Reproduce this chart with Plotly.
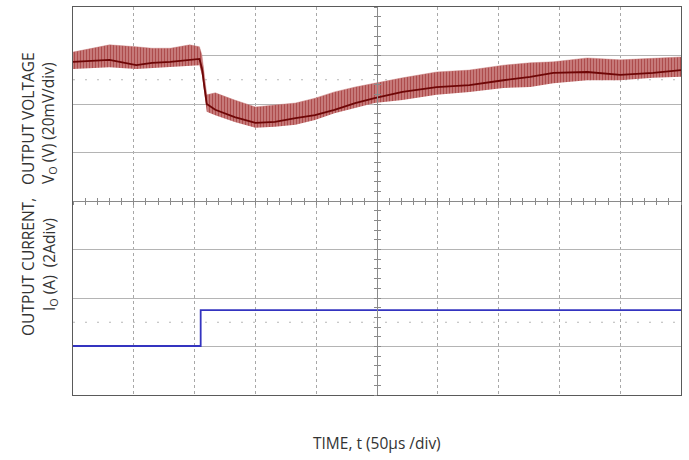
import plotly.graph_objects as go

# ---- data (time in µs, values in screen divisions; 20 mV/div and 2 A/div) ----
t_us = [0, 15, 30, 52, 65, 80, 96, 104, 106, 110, 117, 133, 150, 166, 183, 199,
        215, 232, 248, 271, 299, 326, 354, 376, 395, 423, 450, 477, 500]
vo_upper = [7.07, 7.15, 7.22, 7.18, 7.15, 7.15, 7.22, 7.18, 7.01, 6.19, 6.23, 6.08,
            5.94, 5.98, 6.02, 6.12, 6.25, 6.35, 6.43, 6.54, 6.66, 6.70, 6.80, 6.85,
            6.87, 6.95, 6.91, 6.95, 6.97]
vo_lower = [6.72, 6.74, 6.76, 6.72, 6.74, 6.76, 6.80, 6.80, 6.60, 5.84, 5.77, 5.63,
            5.51, 5.53, 5.57, 5.67, 5.81, 5.92, 6.02, 6.08, 6.19, 6.25, 6.33, 6.35,
            6.43, 6.49, 6.49, 6.54, 6.56]
vo_mid = [6.87, 6.89, 6.91, 6.80, 6.85, 6.87, 6.91, 6.93, 6.74, 6.00, 5.88, 5.73,
          5.61, 5.63, 5.71, 5.77, 5.88, 6.02, 6.12, 6.25, 6.35, 6.39, 6.49, 6.56,
          6.64, 6.66, 6.60, 6.64, 6.70]

io_t_us = [0, 105, 500]
io_div = [1.01, 1.75, 1.75]

ref_levels = [6.5, 1.5]

x_range = [0, 500]
y_range = [0, 8]

FONT = "Open Sans"
FSIZE = 15.5

fig = go.Figure()

# voltage ripple band
fig.add_trace(go.Scatter(x=t_us, y=vo_lower, mode="lines",
                         line=dict(width=0, color="rgba(0,0,0,0)"),
                         showlegend=False, hoverinfo="skip"))
fig.add_trace(go.Scatter(x=t_us, y=vo_upper, mode="lines", fill="tonexty",
                         line=dict(width=0.6, color="rgba(195,115,115,0.7)"),
                         fillpattern=dict(shape="|", fgcolor="rgb(140,15,15)",
                                          bgcolor="rgb(206,136,136)",
                                          size=3, solidity=0.5),
                         showlegend=False, hoverinfo="skip"))
fig.add_trace(go.Scatter(x=t_us, y=vo_mid, mode="lines",
                         line=dict(width=1.8, color="#6e0606"),
                         showlegend=False))
# current
fig.add_trace(go.Scatter(x=io_t_us, y=io_div, mode="lines",
                         line=dict(width=1.8, color="#3434c0", shape="hv"),
                         showlegend=False))

# reference dotted levels
for lv in ref_levels:
    fig.add_hline(y=lv, line=dict(color="#b8b8b8", width=1.2, dash="2px,10px"),
                  layer="below")

# placeholder traces so the centre axes get drawn
for k in ("2", "3"):
    fig.add_trace(go.Scatter(x=[None], y=[None], xaxis="x" + k, yaxis="y" + k,
                             showlegend=False, hoverinfo="skip"))

common_x = dict(range=x_range, showticklabels=False, zeroline=False,
                fixedrange=True, automargin=False)
common_y = dict(range=y_range, showticklabels=False, zeroline=False,
                fixedrange=True, automargin=False)

fig.update_layout(
    width=689, height=460,
    margin=dict(l=73, r=8, t=7, b=65, autoexpand=False),
    paper_bgcolor="white", plot_bgcolor="white",
    xaxis=dict(**common_x, dtick=50, showgrid=True, gridcolor="#a8a8a8",
               griddash="dot", gridwidth=1, showline=True, mirror=True,
               linecolor="#5a5a5a", linewidth=1, ticks=""),
    yaxis=dict(**common_y, dtick=1, showgrid=True, gridcolor="#b4b4b4",
               gridwidth=1, showline=True, mirror=True,
               linecolor="#5a5a5a", linewidth=1, ticks=""),
    xaxis2=dict(**common_x, overlaying="x", anchor="free", position=0.5,
                showgrid=False, showline=True, linecolor="#8a8a8a", linewidth=1,
                ticks="outside", ticklen=3, tickcolor="#8a8a8a", dtick=10, side="bottom"),
    xaxis3=dict(**common_x, overlaying="x", anchor="free", position=0.5,
                showgrid=False, showline=False,
                ticks="inside", ticklen=3, tickcolor="#8a8a8a", dtick=10, side="bottom"),
    yaxis2=dict(**common_y, overlaying="y", anchor="free", position=0.5,
                showgrid=False, showline=True, linecolor="#8a8a8a", linewidth=1,
                ticks="outside", ticklen=3, tickcolor="#8a8a8a", dtick=0.2, side="left"),
    yaxis3=dict(**common_y, overlaying="y", anchor="free", position=0.5,
                showgrid=False, showline=False,
                ticks="inside", ticklen=3, tickcolor="#8a8a8a", dtick=0.2, side="left"),
    font=dict(family=FONT, size=FSIZE, color="#333333"),
)

labels = [
    ("OUTPUT VOLTAGE", -45, 5.69),
    ("OUTPUT CURRENT,", -45, 2.64),
    ("V<sub>O</sub> (V) (20mV/div)", -24, 5.59),
    ("I<sub>O</sub> (A)  (2Adiv)", -24, 2.68),
]
for txt, xs, yv in labels:
    fig.add_annotation(text=txt, xref="paper", x=0, xshift=xs, yref="y", y=yv,
                       textangle=-90, showarrow=False, xanchor="center",
                       yanchor="middle", font=dict(family=FONT, size=FSIZE, color="#333333"))

fig.add_annotation(text="TIME, t (50µs /div)", xref="x", x=250, yref="paper", y=0,
                   yshift=-48, showarrow=False, xanchor="center", yanchor="middle",
                   font=dict(family=FONT, size=FSIZE, color="#333333"))

fig.write_html("out.html", config={"displayModeBar": False},
               post_script="document.body.style.margin='0';document.body.style.overflow='hidden';")
